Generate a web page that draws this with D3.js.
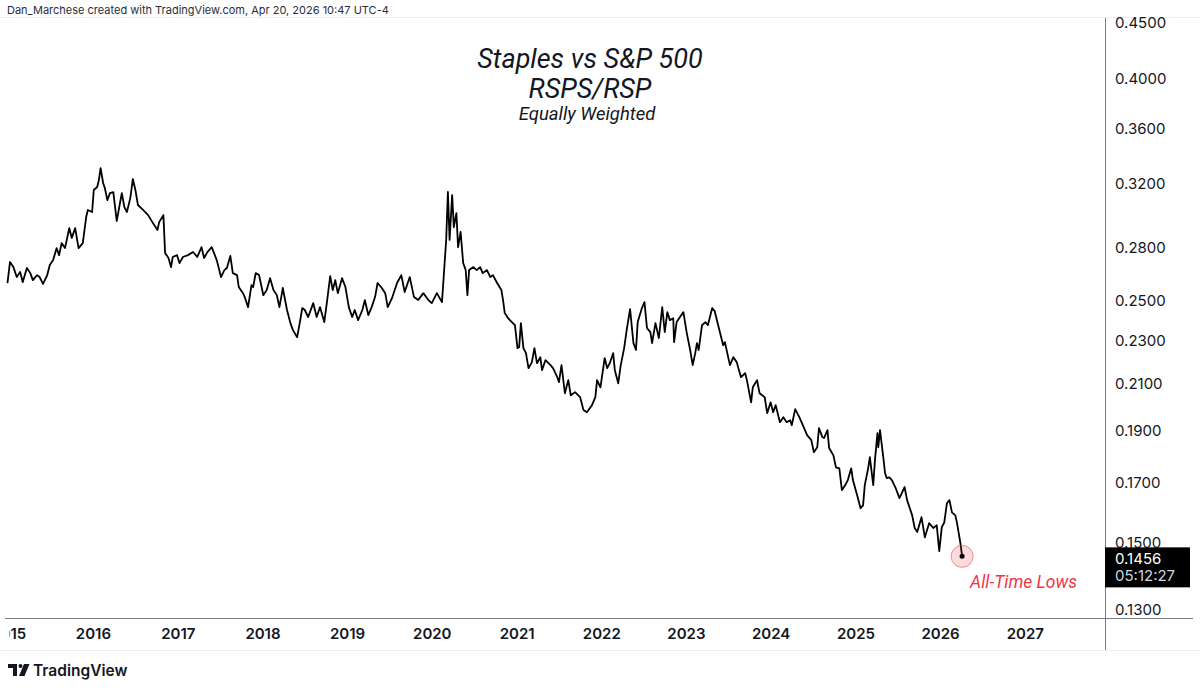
<!DOCTYPE html>
<html>
<head>
<meta charset="utf-8">
<script src="https://cdn.jsdelivr.net/npm/d3@7"></script>
<style>
  html, body { margin: 0; padding: 0; background: #fff; }
  svg { display: block; font-family: Inter, "Noto Sans", sans-serif; }
</style>
</head>
<body>
<svg id="chart" width="1200" height="690"></svg>
<script>
// RSPS/RSP ratio, [decimal year, value]
const series = [
  [2014.99,0.2596],[2015.02,0.2714],[2015.06,0.2685],[2015.10,0.2629],[2015.14,0.2657],[2015.17,0.2601],
  [2015.22,0.2680],[2015.26,0.2651],[2015.29,0.2612],[2015.34,0.2640],[2015.37,0.2629],[2015.41,0.2591],
  [2015.46,0.2640],[2015.49,0.2697],[2015.53,0.2725],[2015.57,0.2795],[2015.60,0.2754],[2015.63,0.2825],
  [2015.67,0.2795],[2015.72,0.2916],[2015.75,0.2856],[2015.79,0.2916],[2015.83,0.2795],[2015.88,0.2825],
  [2015.92,0.2985],[2015.94,0.3030],[2015.99,0.3017],[2016.01,0.3161],[2016.05,0.3181],[2016.07,0.3228],
  [2016.09,0.3311],[2016.12,0.3208],[2016.14,0.3174],[2016.17,0.3094],[2016.20,0.3140],[2016.24,0.3147],
  [2016.28,0.2960],[2016.34,0.3140],[2016.37,0.3049],[2016.40,0.3017],[2016.44,0.3107],[2016.47,0.3235],
  [2016.50,0.3161],[2016.53,0.3062],[2016.59,0.3030],[2016.65,0.2997],[2016.70,0.2953],[2016.76,0.2904],
  [2016.78,0.2953],[2016.83,0.2997],[2016.85,0.2766],[2016.89,0.2737],[2016.92,0.2685],[2016.94,0.2743],
  [2016.99,0.2754],[2017.02,0.2708],[2017.06,0.2743],[2017.12,0.2754],[2017.18,0.2772],[2017.23,0.2743],
  [2017.28,0.2801],[2017.31,0.2737],[2017.35,0.2772],[2017.40,0.2801],[2017.46,0.2725],[2017.51,0.2629],
  [2017.55,0.2668],[2017.58,0.2680],[2017.62,0.2749],[2017.65,0.2651],[2017.70,0.2640],[2017.72,0.2574],
  [2017.77,0.2541],[2017.79,0.2520],[2017.83,0.2467],[2017.87,0.2585],[2017.89,0.2574],[2017.92,0.2651],
  [2017.96,0.2640],[2018.01,0.2530],[2018.05,0.2558],[2018.09,0.2623],[2018.13,0.2558],[2018.17,0.2530],
  [2018.20,0.2467],[2018.23,0.2541],[2018.24,0.2569],[2018.29,0.2452],[2018.33,0.2385],[2018.36,0.2350],
  [2018.41,0.2315],[2018.44,0.2385],[2018.47,0.2462],[2018.50,0.2452],[2018.54,0.2416],[2018.60,0.2488],
  [2018.64,0.2416],[2018.68,0.2467],[2018.73,0.2390],[2018.76,0.2488],[2018.80,0.2634],[2018.83,0.2558],
  [2018.86,0.2612],[2018.89,0.2541],[2018.94,0.2623],[2018.98,0.2574],[2019.02,0.2467],[2019.06,0.2416],
  [2019.09,0.2452],[2019.13,0.2400],[2019.18,0.2452],[2019.21,0.2504],[2019.25,0.2426],[2019.29,0.2467],
  [2019.33,0.2520],[2019.36,0.2596],[2019.41,0.2569],[2019.45,0.2541],[2019.48,0.2467],[2019.53,0.2514],
  [2019.59,0.2596],[2019.64,0.2640],[2019.68,0.2547],[2019.74,0.2629],[2019.79,0.2520],[2019.84,0.2504],
  [2019.90,0.2541],[2019.96,0.2504],[2020.00,0.2488],[2020.06,0.2541],[2020.12,0.2493],[2020.13,0.2558],
  [2020.17,0.2844],[2020.19,0.3148],[2020.21,0.2844],[2020.24,0.3127],[2020.26,0.2922],[2020.29,0.3010],
  [2020.31,0.2801],[2020.34,0.2892],[2020.37,0.2708],[2020.40,0.2668],[2020.42,0.2530],[2020.44,0.2668],
  [2020.49,0.2685],[2020.53,0.2668],[2020.57,0.2685],[2020.60,0.2651],[2020.65,0.2668],[2020.69,0.2629],
  [2020.72,0.2640],[2020.77,0.2596],[2020.82,0.2558],[2020.84,0.2504],[2020.86,0.2436],[2020.90,0.2410],
  [2020.92,0.2400],[2020.98,0.2375],[2021.01,0.2262],[2021.03,0.2267],[2021.05,0.2385],[2021.08,0.2262],
  [2021.11,0.2238],[2021.14,0.2168],[2021.18,0.2196],[2021.21,0.2262],[2021.24,0.2191],[2021.28,0.2219],
  [2021.30,0.2159],[2021.34,0.2205],[2021.40,0.2182],[2021.43,0.2168],[2021.48,0.2127],[2021.50,0.2105],
  [2021.53,0.2182],[2021.57,0.2056],[2021.61,0.2114],[2021.64,0.2047],[2021.69,0.2061],[2021.75,0.2039],
  [2021.79,0.1984],[2021.83,0.1975],[2021.89,0.2005],[2021.93,0.2039],[2021.95,0.2114],[2021.99,0.2082],
  [2022.04,0.2215],[2022.07,0.2168],[2022.10,0.2191],[2022.14,0.2238],[2022.16,0.2159],[2022.20,0.2100],
  [2022.23,0.2182],[2022.27,0.2262],[2022.30,0.2350],[2022.34,0.2457],[2022.38,0.2286],[2022.41,0.2253],
  [2022.43,0.2390],[2022.48,0.2462],[2022.51,0.2493],[2022.54,0.2360],[2022.58,0.2340],[2022.60,0.2286],
  [2022.64,0.2385],[2022.68,0.2311],[2022.72,0.2467],[2022.75,0.2340],[2022.78,0.2441],[2022.81,0.2400],
  [2022.85,0.2410],[2022.86,0.2291],[2022.89,0.2390],[2022.93,0.2416],[2022.97,0.2441],[2023.01,0.2335],
  [2023.05,0.2253],[2023.08,0.2182],[2023.11,0.2238],[2023.13,0.2286],[2023.15,0.2253],[2023.19,0.2375],
  [2023.23,0.2390],[2023.26,0.2375],[2023.31,0.2462],[2023.34,0.2446],[2023.38,0.2375],[2023.44,0.2276],
  [2023.46,0.2291],[2023.52,0.2182],[2023.56,0.2219],[2023.60,0.2196],[2023.65,0.2127],[2023.70,0.2145],
  [2023.72,0.2114],[2023.77,0.2017],[2023.79,0.2082],[2023.84,0.2114],[2023.87,0.2056],[2023.93,0.2039],
  [2023.96,0.1971],[2024.00,0.2017],[2024.03,0.1975],[2024.06,0.2005],[2024.11,0.1934],[2024.15,0.1954],
  [2024.19,0.1934],[2024.23,0.1942],[2024.25,0.1922],[2024.29,0.1988],[2024.34,0.1954],[2024.38,0.1922],
  [2024.43,0.1882],[2024.48,0.1862],[2024.51,0.1815],[2024.55,0.1834],[2024.57,0.1910],[2024.61,0.1874],
  [2024.63,0.1870],[2024.67,0.1902],[2024.69,0.1831],[2024.74,0.1803],[2024.77,0.1758],[2024.81,0.1754],
  [2024.84,0.1675],[2024.88,0.1693],[2024.91,0.1711],[2024.95,0.1754],[2024.97,0.1711],[2025.02,0.1657],
  [2025.06,0.1612],[2025.09,0.1622],[2025.11,0.1693],[2025.15,0.1754],[2025.17,0.1796],[2025.21,0.1693],
  [2025.23,0.1784],[2025.26,0.1890],[2025.27,0.1834],[2025.29,0.1902],[2025.33,0.1792],[2025.35,0.1736],
  [2025.37,0.1718],[2025.40,0.1721],[2025.43,0.1711],[2025.47,0.1686],[2025.52,0.1647],[2025.58,0.1686],
  [2025.61,0.1640],[2025.67,0.1588],[2025.70,0.1546],[2025.73,0.1533],[2025.78,0.1582],[2025.82,0.1516],
  [2025.87,0.1562],[2025.92,0.1546],[2025.96,0.1555],[2025.99,0.1472],[2026.02,0.1549],[2026.05,0.1565],
  [2026.08,0.1629],[2026.11,0.1640],[2026.14,0.1598],[2026.18,0.1588],[2026.20,0.1562],[2026.24,0.1497],
  [2026.26,0.1456]
];

const priceTicks = [0.13, 0.15, 0.17, 0.19, 0.21, 0.23, 0.25, 0.28, 0.32, 0.36, 0.40, 0.45];
const xRange = [2014.961, 2027.948];   // visible years
const yRange = [0.1278, 0.4548];       // visible price range
const titleLines = ["Staples vs S&P 500", "RSPS/RSP"];
const subtitle = "Equally Weighted";
const lastLabel = ["0.1456", "05:12:27"];
const note = "All-Time Lows";
const header = "Dan_Marchese created with TradingView.com, Apr 20, 2026 10:47 UTC-4";

function yearToDate(t) {
  const yr = Math.floor(t);
  const a = new Date(yr, 0, 1), b = new Date(yr + 1, 0, 1);
  return new Date(+a + (t - yr) * (b - a));
}

const plot = { left: 5, right: 1105, top: 18, bottom: 618 };
const svg = d3.select("#chart");

const x = d3.scaleTime()
  .domain(xRange.map(yearToDate))
  .range([plot.left, plot.right]);
const y = d3.scaleLog()
  .domain(yRange)
  .range([plot.bottom, plot.top]);

const defs = svg.append("defs");
defs.append("clipPath").attr("id", "plotclip")
  .append("rect")
  .attr("x", plot.left).attr("y", plot.top)
  .attr("width", plot.right - plot.left).attr("height", plot.bottom - plot.top);
// in the x-axis group's own (translated) coordinates
defs.append("clipPath").attr("id", "xlabclip")
  .append("rect")
  .attr("x", 9.5).attr("y", 0)
  .attr("width", plot.right - 9.5).attr("height", 32);

// header
svg.append("text")
  .attr("x", 7).attr("y", 14)
  .attr("font-size", 11)
  .attr("fill", "#2a2e39")
  .text(header);

// faint panel edges
svg.append("line")
  .attr("x1", 0).attr("x2", 1200).attr("y1", 17.5).attr("y2", 17.5)
  .attr("stroke", "#f0f0f0");
svg.append("line")
  .attr("x1", 0).attr("x2", 1200).attr("y1", 650.5).attr("y2", 650.5)
  .attr("stroke", "#f0f0f0");

// titles
const titles = svg.append("g")
  .attr("text-anchor", "middle")
  .attr("font-family", "Roboto, Inter, sans-serif")
  .attr("font-style", "italic")
  .attr("fill", "#131722");
titles.selectAll("text.t")
  .data(titleLines)
  .join("text")
  .attr("class", "t")
  .attr("x", 590)
  .attr("y", (d, i) => 68 + i * 29.5)
  .attr("font-size", 27)
  .text(d => d);
titles.append("text")
  .attr("x", 587).attr("y", 119.5)
  .attr("font-size", 18.5)
  .text(subtitle);

// price line
const line = d3.line()
  .x(d => x(yearToDate(d[0])))
  .y(d => y(d[1]));

svg.append("path")
  .datum(series)
  .attr("clip-path", "url(#plotclip)")
  .attr("fill", "none")
  .attr("stroke", "#000")
  .attr("stroke-width", 1.8)
  .attr("stroke-linejoin", "round")
  .attr("d", line);

// x axis
const xAxis = svg.append("g")
  .attr("transform", `translate(0,${plot.bottom})`)
  .attr("clip-path", "url(#xlabclip)")
  .call(d3.axisBottom(x)
    .ticks(d3.timeYear.every(1))
    .tickFormat(d3.timeFormat("%Y"))
    .tickSize(0)
    .tickPadding(10));
xAxis.select(".domain").remove();
xAxis.selectAll("text")
  .attr("font-family", "Inter, sans-serif")
  .attr("font-size", 15)
  .attr("font-weight", 600)
  .attr("fill", "#131722");

// y axis
const yAxis = svg.append("g")
  .attr("transform", `translate(${plot.right},0)`)
  .call(d3.axisRight(y)
    .tickValues(priceTicks)
    .tickFormat(d3.format(".4f"))
    .tickSize(0)
    .tickPadding(10));
yAxis.select(".domain").remove();
yAxis.selectAll("text")
  .attr("font-family", "Inter, sans-serif")
  .attr("font-size", 15)
  .attr("fill", "#131722");

// axis frame lines
svg.append("line")
  .attr("x1", plot.left).attr("x2", 1193)
  .attr("y1", plot.bottom + 0.5).attr("y2", plot.bottom + 0.5)
  .attr("stroke", "#787b86");
svg.append("line")
  .attr("x1", plot.right + 0.5).attr("x2", plot.right + 0.5)
  .attr("y1", plot.top).attr("y2", 650)
  .attr("stroke", "#787b86");

// last price tag
const last = series[series.length - 1];
const lx = x(yearToDate(last[0])), ly = y(last[1]);
const tag = svg.append("g");
tag.append("rect")
  .attr("x", plot.right).attr("y", ly - 9)
  .attr("width", 85).attr("height", 40)
  .attr("fill", "#000");
tag.selectAll("text")
  .data(lastLabel)
  .join("text")
  .attr("x", plot.right + 10)
  .attr("y", (d, i) => ly + 8 + i * 17)
  .attr("font-size", 15)
  .attr("fill", (d, i) => i === 0 ? "#fff" : "#d1d4dc")
  .text(d => d);

// all-time low marker
svg.append("circle")
  .attr("cx", lx).attr("cy", ly).attr("r", 11)
  .attr("fill", "rgba(242,54,69,0.18)")
  .attr("stroke", "rgba(242,54,69,0.55)")
  .attr("stroke-width", 1);
svg.append("circle")
  .attr("cx", lx).attr("cy", ly).attr("r", 2.5)
  .attr("fill", "#000");
svg.append("text")
  .attr("x", lx + 8).attr("y", ly + 32)
  .attr("font-family", "Roboto, Inter, sans-serif")
  .attr("font-style", "italic")
  .attr("font-size", 17.5)
  .attr("fill", "#f23645")
  .text(note);

// TradingView logo
const logo = svg.append("g").attr("fill", "#131722");
logo.append("path").attr("d", "M8,664 H17 V676 H13 V668 H8 Z");
logo.append("circle").attr("cx", 20.5).attr("cy", 666).attr("r", 2);
logo.append("path").attr("d", "M24,664 H29.5 L24.5,676 H19 Z");
logo.append("text")
  .attr("x", 33).attr("y", 675.5)
  .attr("font-size", 15.5)
  .attr("font-weight", 600)
  .text("TradingView");
</script>
</body>
</html>
